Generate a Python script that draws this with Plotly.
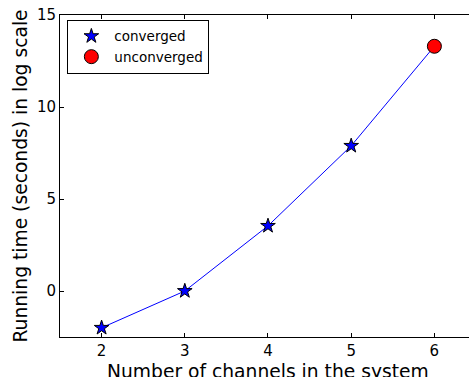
import plotly.graph_objects as go

# Running time versus number of channels
channels = [2, 3, 4, 5, 6]
log_time = [-2.0, 0.0, 3.54, 7.89, 13.3]

conv_channels = [2, 3, 4, 5]
conv_time = [-2.0, 0.0, 3.54, 7.89]
unconv_channels = [6]
unconv_time = [13.3]

x_ticks = [2, 3, 4, 5, 6]
y_ticks = [0, 5, 10, 15]

W, H = 469, 377
L, R, T, B = 60, 0, 15, 40

fig = go.Figure()

fig.add_trace(go.Scatter(
    x=channels, y=log_time, mode="lines",
    line=dict(color="blue", width=1), showlegend=False, hoverinfo="skip",
))
fig.add_trace(go.Scatter(
    x=conv_channels, y=conv_time, mode="markers", name="converged",
    marker=dict(symbol="star", size=11, color="blue",
                line=dict(color="black", width=1)),
))
fig.add_trace(go.Scatter(
    x=unconv_channels, y=unconv_time, mode="markers", name="unconverged",
    marker=dict(symbol="circle", size=14, color="red",
                line=dict(color="black", width=1)),
))

axis_font = dict(family="DejaVu Sans", size=15, color="black")
title_font = dict(family="DejaVu Sans", size=18.7, color="black")

fig.update_layout(
    width=W, height=H,
    margin=dict(l=L, r=R, t=T, b=B),
    paper_bgcolor="white", plot_bgcolor="white",
    font=dict(family="DejaVu Sans", color="black"),
    xaxis=dict(
        range=[1.5, 6.416], tickvals=x_ticks, ticks="inside", ticklen=4,
        tickcolor="black", showline=True, linecolor="black", linewidth=1,
        mirror="ticks", showgrid=False, zeroline=False, tickfont=axis_font,
    ),
    yaxis=dict(
        range=[-2.5, 15], tickvals=y_ticks, ticks="inside", ticklen=4,
        tickcolor="black", showline=True, linecolor="black", linewidth=1,
        mirror=False, showgrid=False, zeroline=False, tickfont=axis_font,
        title=dict(text="Running time (seconds) in log scale",
                   font=title_font, standoff=4),
    ),
    legend=dict(
        x=0.018, y=0.985, xanchor="left", yanchor="top",
        bordercolor="black", borderwidth=1, bgcolor="white",
        font=dict(family="DejaVu Sans", size=13.5),
        itemwidth=36, tracegroupgap=0,
    ),
    annotations=[dict(
        text="Number of channels in the system", xref="x", yref="paper",
        x=4, y=0, yshift=-22, xanchor="center", yanchor="top",
        showarrow=False, font=title_font,
    )],
)

fig.write_html("out.html")
